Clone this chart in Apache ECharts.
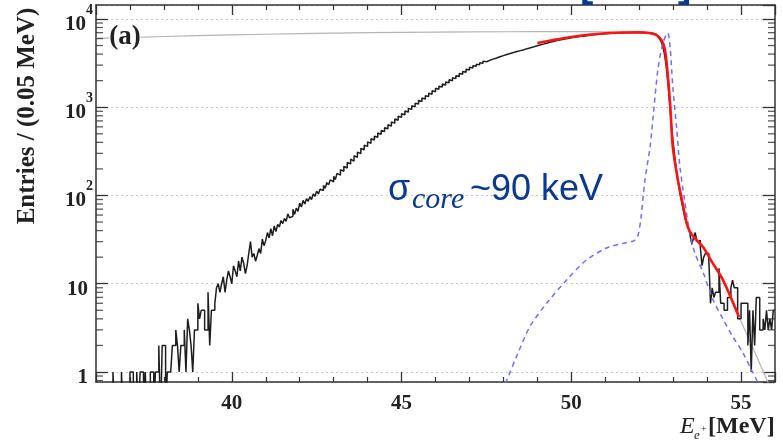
<!DOCTYPE html>
<html><head><meta charset="utf-8">
<script src="https://cdn.jsdelivr.net/npm/echarts@6/dist/echarts.min.js"></script>
<style>html,body{margin:0;padding:0;background:#fff}#c{width:783px;height:440px}</style>
</head><body><div id="c"></div>
<script>
// ---- data ----
const binLow = 36, binWidth = 0.05;
const counts = [
0,0,0,0,0,0,0,0,0,0,
1,0,0,0,0,1,0,0,0,0,
1,1,0,0,1,0,1,1,0,1,
0,0,1,1,0,1,1,2,0,2,
2,0,1,1,1,2,2,3,2,1,
2,2,3,1,4,3,2,1,3,3,
6,4,5,5,3,3,8,2,5,5,
6,9,10,8,10,12,8,11,14,12,
10,16,14,12,18,14,20,17,13,16,
22,30,20,22,18,21,25,22,32,27,
31,38,33,42,35,45,39,47,44,52,
48,55,51,62,56,58,70,61,72,66,
82,74,88,80,92,86,97,90,104,98,
112,104,118,114,130,121,140,132,150,143,
165,152,178,170,196,188,214,205,236,228,
258,245,282,270,310,298,342,330,371,360,
405,390,440,425,470,458,510,495,545,530,
585,570,632,610,680,660,735,712,790,768,
845,820,905,880,968,945,1040,1010,1110,1085,
1190,1160,1270,1235,1350,1320,1445,1400,1540,1500,
1640,1600,1735,1690,1830,1790,1935,1890,2045,2000,
2160,2110,2280,2230,2410,2360,2545,2490,2690,2640,
2840,2790,2955,2910,3075,3020,3195,3140,3330,3280,
3450,3400,3560,3510,3665,3620,3775,3730,3890,3840,
4010,3950,4110,4060,4215,4160,4320,4270,4430,4380,
4545,4490,4660,4610,4780,4730,4900,4850,5030,4980,
5155,5100,5275,5220,5395,5350,5520,5470,5650,5600,
5780,5720,5870,5820,5965,5910,6065,6010,6160,6110,
6260,6210,6335,6290,6405,6360,6480,6430,6555,6510,
6630,6580,6690,6650,6740,6700,6800,6760,6850,6820,
6910,6860,6935,6890,6955,6910,6980,6930,7000,6950,
7020,6970,7045,6990,7060,7010,7070,7020,7080,7030,
7060,7010,7050,6990,7020,6950,6960,6880,6820,6700,
6560,6300,5950,5500,4800,3900,2800,1800,1050,620,
400,270,190,140,105,84,68,55,47,44,
35,28,33,38,30,31,26,16,20,22,
22,19,6,9,7,8,8,15,6,6,
5,5,7,7,9,11,9,9,4,4,
6,6,6,6,2,5,1,5,2,7,
7,3,3,4,3,5,3,4,3,5
];
const fitRedX = [49.0,49.5,50.0,50.5,51.0,51.5,52.0,52.3,52.5,52.6,52.7,52.76,52.82,52.91,52.99,53.14,53.26,53.43,53.6,53.88,54.17,54.47,54.94];
const fitRedY = [5345,5800,6250,6630,6900,7020,7050,6950,6600,6150,5350,4450,2860,1117,354,150,89,44,34,26,17,11,4.2];
const fitGrayX = [36,38,40,42,44,46,48,50,51,51.5,52.0,52.3,52.5,52.6,52.7,52.76,52.82,52.91,52.99,53.14,53.26,53.43,53.6,53.88,54.17,54.47,54.94,55.37,55.79,56.0];
const fitGrayY = [6030,6330,6600,6820,6990,7100,7170,7180,7150,7080,7050,6950,6600,6150,5350,4450,2860,1117,354,150,89,44,34,26,17,11,4.2,1.8,0.77,0.55];
const sigX = [47.95,48.10,48.43,48.78,49.28,49.86,50.45,51.04,51.5,51.83,51.95,52.05,52.17,52.32,52.41,52.55,52.70,52.84,52.91,52.99,53.10,53.20,53.35,53.49,53.64,53.89,54.18,54.48,54.76,55.06,55.31,55.50,55.6];
const sigY = [0.6,0.81,1.64,3.26,6.05,11.0,18.6,25.4,28.5,30.5,34,55,150,355,775,2650,5350,6940,4800,1700,597,210,82,37.6,22.3,13.2,6.5,3.9,2.5,1.64,1.05,0.75,0.6];
const yMinorTicks = [0.8,0.9,2,3,4,5,6,7,8,9,20,30,40,50,60,70,80,90,200,300,400,500,600,700,800,900,2000,3000,4000,5000,6000,7000,8000,9000];
const xTitle = ['E','e','+','[MeV]'];
const yTitle = 'Entries / (0.05 MeV)';
const panelLabel = '(a)';
const noteParts = ['σ','core','~90 keV'];

// ---- build ----
const serif = "'Liberation Serif','DejaVu Serif',serif";
const floorVal = 0.3; // empty bins drawn below the axis (clipped)
const hist = counts.map((c,i)=>[+(binLow+i*binWidth).toFixed(2), c>0?c:floorVal]);
hist.push([+(binLow+counts.length*binWidth).toFixed(2), counts[counts.length-1]>0?counts[counts.length-1]:floorVal]);
const zip = (a,b)=>a.map((v,i)=>[v,b[i]]);
const axisColor = '#333';

function yLabel(v){
  const e = Math.log10(v), r = Math.round(e);
  if (Math.abs(e-r) > 0.01) return '';
  if (r === 0) return '{b|1}{sp|}';
  if (r === 1) return '{b|10}{sp|}';
  return '{b|10}{sup|' + r + '}';
}
const yBase = {
  type:'log', logBase:10, min:0.77, max:14400,
  axisLine:{show:true, lineStyle:{color:axisColor, width:1.5}},
  axisTick:{show:true, inside:true, length:12, lineStyle:{color:axisColor, width:1.3}},
  minorTick:{show:false}, splitLine:{show:false}
};
const xBase = {
  type:'value', min:36, max:56, splitNumber:4,
  axisLine:{show:true, onZero:false, lineStyle:{color:axisColor, width:1.5}},
  axisTick:{show:true, inside:true, length:10, lineStyle:{color:axisColor, width:1.3}},
  minorTick:{show:true, splitNumber:5, length:5, lineStyle:{color:axisColor, width:1.2}},
  splitLine:{show:false}, minorSplitLine:{show:false}
};

const chart = echarts.init(document.getElementById('c'), null, {renderer:'canvas'});
chart.setOption({
  animation:false,
  backgroundColor:'#fff',
  grid:{left:96, right:8, top:5, bottom:58, containLabel:false},
  xAxis:[
    Object.assign({}, xBase, {position:'bottom', axisLabel:{show:true, showMinLabel:false, showMaxLabel:false, margin:11,
      fontFamily:serif, fontWeight:'bold', fontSize:21, color:'#222'}}),
    Object.assign({}, xBase, {position:'top', axisLabel:{show:false}})
  ],
  yAxis:[
    Object.assign({}, yBase, {position:'left',
      splitLine:{show:true, lineStyle:{type:[2,3], color:'#c8c8c8', width:1}},
      axisLabel:{show:true, showMinLabel:false, showMaxLabel:false, margin:3, formatter:yLabel,
        rich:{
          b:{fontFamily:serif, fontWeight:'bold', fontSize:21, color:'#222', lineHeight:32, verticalAlign:'bottom'},
          sup:{fontFamily:serif, fontWeight:'bold', fontSize:14, color:'#222', lineHeight:16, verticalAlign:'top'},
          sp:{width:5}
        }}}),
    Object.assign({}, yBase, {position:'right', axisLabel:{show:false}})
  ],
  series:[
    {type:'line', name:'total', data:zip(fitGrayX, fitGrayY), smooth:0.3, showSymbol:false, silent:true,
      lineStyle:{color:'#b4b4b4', width:1.2}, z:2},
    {type:'line', name:'hist', data:hist, step:'end', showSymbol:false, silent:true,
      lineStyle:{color:'#1e1e1e', width:1.5}, z:3},
    {type:'line', name:'signal', data:zip(sigX, sigY), smooth:0.3, showSymbol:false, silent:true,
      lineStyle:{color:'#6f6fff', width:1.5, type:[5,4]}, z:4},
    {type:'line', name:'fit', data:zip(fitRedX, fitRedY), smooth:0.3, showSymbol:false, silent:true,
      lineStyle:{color:'#ff1414', width:2.6}, z:5},
    {type:'scatter', data:yMinorTicks.map(v=>[36,v]), symbol:'rect', symbolSize:[7,1.3], symbolOffset:[3.5,0],
      itemStyle:{color:axisColor}, silent:true, clip:false, z:6},
    {type:'scatter', data:yMinorTicks.map(v=>[56,v]), symbol:'rect', symbolSize:[7,1.3], symbolOffset:[-3.5,0],
      itemStyle:{color:axisColor}, silent:true, clip:false, z:6}
  ],
  graphic:[
    {type:'text', x:28, y:116, rotation:Math.PI/2, z:10,
      style:{text:yTitle, font:'bold 25px '+serif, fill:'#222', textAlign:'center', textVerticalAlign:'middle', align:'center', verticalAlign:'middle'}},
    {type:'text', x:125, y:37, z:10,
      style:{text:panelLabel, font:'bold 27px '+serif, fill:'#222', backgroundColor:'#fff', textAlign:'center', textVerticalAlign:'middle', align:'center', verticalAlign:'middle'}},
    {type:'text', x:388, y:190, z:10,
      style:{text:noteParts[0], font:'36px Liberation Sans, Arial, sans-serif', fill:'#0a3a8f', textAlign:'left', textVerticalAlign:'middle', align:'left', verticalAlign:'middle'}},
    {type:'text', x:412, y:200, z:10,
      style:{text:noteParts[1], font:'italic 30px '+serif, fill:'#0a3a8f', textAlign:'left', textVerticalAlign:'middle', align:'left', verticalAlign:'middle'}},
    {type:'text', x:470, y:190, z:10,
      style:{text:noteParts[2], font:'36px Liberation Sans, Arial, sans-serif', fill:'#0a3a8f', textAlign:'left', textVerticalAlign:'middle', align:'left', verticalAlign:'middle'}},
    {type:'text', x:580, y:6, z:10,
      style:{text:'[', font:'bold 40px Liberation Sans, Arial, sans-serif', fill:'#0a3a8f', textAlign:'left', textVerticalAlign:'bottom', align:'left', verticalAlign:'bottom'}},
    {type:'text', x:678, y:6, z:10,
      style:{text:']', font:'bold 40px Liberation Sans, Arial, sans-serif', fill:'#0a3a8f', textAlign:'left', textVerticalAlign:'bottom', align:'left', verticalAlign:'bottom'}},
    {type:'text', x:680, y:427, z:10,
      style:{text:xTitle[0], font:'italic 24px '+serif, fill:'#222', textAlign:'left', textVerticalAlign:'middle', align:'left', verticalAlign:'middle'}},
    {type:'text', x:694, y:436, z:10,
      style:{text:xTitle[1], font:'italic 13px '+serif, fill:'#222', textAlign:'left', textVerticalAlign:'middle', align:'left', verticalAlign:'middle'}},
    {type:'text', x:701, y:429, z:10,
      style:{text:xTitle[2], font:'10px '+serif, fill:'#222', textAlign:'left', textVerticalAlign:'middle', align:'left', verticalAlign:'middle'}},
    {type:'text', x:708, y:427, z:10,
      style:{text:xTitle[3], font:'bold 24px '+serif, fill:'#222', textAlign:'left', textVerticalAlign:'middle', align:'left', verticalAlign:'middle'}}
  ]
});
</script></body></html>
